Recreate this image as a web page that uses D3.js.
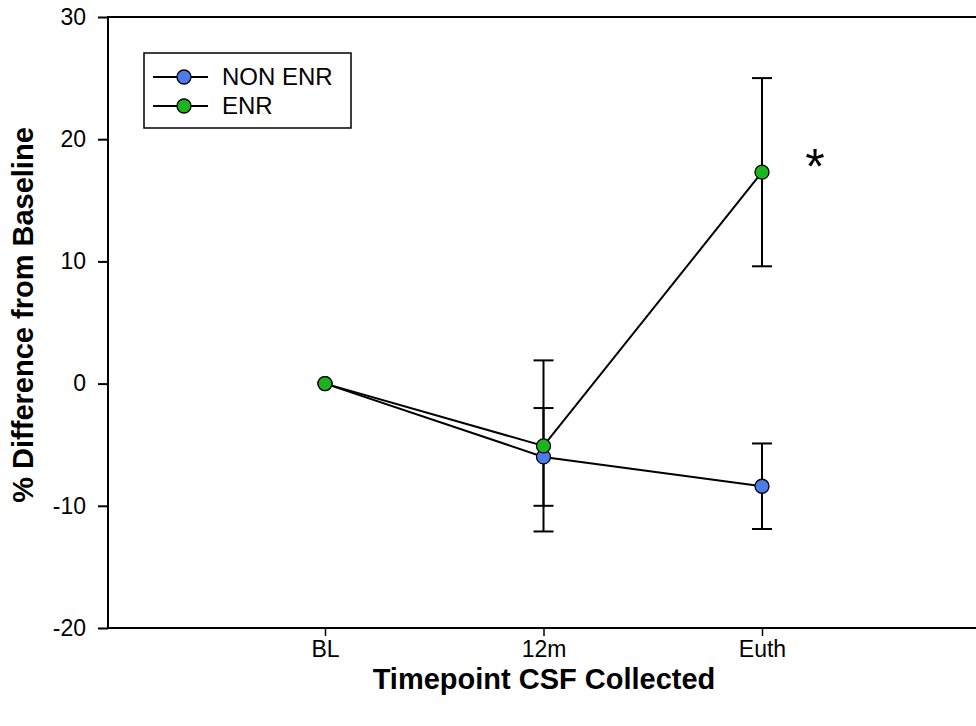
<!DOCTYPE html>
<html>
<head>
<meta charset="utf-8">
<script src="https://cdn.jsdelivr.net/npm/d3@7"></script>
<style>
  html, body { margin: 0; padding: 0; background: #fff; }
  svg { display: block; font-family: Arial, "Liberation Sans", sans-serif; }
</style>
</head>
<body>
<svg id="chart" width="976" height="726"></svg>
<script>
// Timepoints at which CSF was collected
const timepoints = ["BL", "12m", "Euth"];

// Mean % difference from baseline and its error (±) for each group
const nonEnrMean = [0, -6.0, -8.4];
const nonEnrErr  = [0, 4.0, 3.5];
const enrMean    = [0, -5.1, 17.3];
const enrErr     = [0, 7.0, 7.7];

const seriesNames  = ["NON ENR", "ENR"];
const seriesColors = ["#4c7ce8", "#1cb41c"];

const yTicks = [-20, -10, 0, 10, 20, 30];

const svg = d3.select("#chart");
const plotLeft = 108, plotTop = 17, plotBottom = 628, plotRight = 1100;
const fontFamily = "Arial, 'Liberation Sans', sans-serif";

const y = d3.scaleLinear().domain([-20, 30]).range([plotBottom, plotTop]);
const x = d3.scalePoint().domain(timepoints).range([325, 762]);

// Plot frame (right edge lies past the visible area)
svg.append("rect")
  .attr("x", plotLeft).attr("y", plotTop)
  .attr("width", plotRight - plotLeft).attr("height", plotBottom - plotTop)
  .attr("fill", "none").attr("stroke", "#000").attr("stroke-width", 2);

// Y axis (plain hyphen for negative numbers)
const yAxis = d3.axisLeft(y).tickValues(yTicks).tickSize(10).tickPadding(12)
  .tickFormat(d => String(d));
const gy = svg.append("g").attr("transform", `translate(${plotLeft},0)`).call(yAxis);
gy.select(".domain").remove();
gy.selectAll(".tick line").attr("stroke", "#000").attr("stroke-width", 2);
gy.selectAll(".tick text").attr("font-size", 23).attr("fill", "#000")
  .attr("font-family", fontFamily);

// X axis
const xAxis = d3.axisBottom(x).tickSize(8).tickPadding(5);
const gx = svg.append("g").attr("transform", `translate(0,${plotBottom})`).call(xAxis);
gx.select(".domain").remove();
gx.selectAll(".tick line").attr("stroke", "#000").attr("stroke-width", 1.5);
gx.selectAll(".tick text").attr("font-size", 23).attr("fill", "#000")
  .attr("font-family", fontFamily);

// Axis titles
svg.append("text")
  .attr("x", 544).attr("y", 689)
  .attr("text-anchor", "middle")
  .attr("font-size", 29).attr("font-weight", "bold")
  .text("Timepoint CSF Collected");

svg.append("text")
  .attr("transform", "translate(33,315) rotate(-90)")
  .attr("text-anchor", "middle")
  .attr("font-size", 29).attr("font-weight", "bold")
  .text("% Difference from Baseline");

const series = [
  { name: seriesNames[0], color: seriesColors[0], mean: nonEnrMean, err: nonEnrErr },
  { name: seriesNames[1], color: seriesColors[1], mean: enrMean, err: enrErr }
];

const line = d3.line().x((d, i) => x(timepoints[i])).y(d => y(d));
const capHalf = 10;

series.forEach(s => {
  const g = svg.append("g");
  // Error bars
  s.mean.forEach((m, i) => {
    if (s.err[i] === 0) return;
    const cx = x(timepoints[i]);
    g.append("line").attr("x1", cx).attr("x2", cx)
      .attr("y1", y(m + s.err[i])).attr("y2", y(m - s.err[i]))
      .attr("stroke", "#000").attr("stroke-width", 2);
    [m + s.err[i], m - s.err[i]].forEach(v => {
      g.append("line").attr("x1", cx - capHalf).attr("x2", cx + capHalf)
        .attr("y1", y(v)).attr("y2", y(v))
        .attr("stroke", "#000").attr("stroke-width", 2);
    });
  });
  // Connecting line
  g.append("path").datum(s.mean).attr("d", line)
    .attr("fill", "none").attr("stroke", "#000").attr("stroke-width", 2);
});

// Markers drawn above all lines
series.forEach(s => {
  svg.append("g").selectAll("circle").data(s.mean).join("circle")
    .attr("cx", (d, i) => x(timepoints[i])).attr("cy", d => y(d))
    .attr("r", 7).attr("fill", s.color)
    .attr("stroke", "#000").attr("stroke-width", 1.3);
});

// Significance marker
svg.append("text")
  .attr("x", 815).attr("y", 184)
  .attr("text-anchor", "middle")
  .attr("font-size", 50)
  .text("*");

// Legend
const lg = svg.append("g");
lg.append("rect").attr("x", 144).attr("y", 53).attr("width", 207).attr("height", 75)
  .attr("fill", "#fff").attr("stroke", "#000").attr("stroke-width", 1.5);
series.forEach((s, i) => {
  const ly = 77 + i * 29;
  lg.append("line").attr("x1", 153).attr("x2", 208).attr("y1", ly).attr("y2", ly)
    .attr("stroke", "#000").attr("stroke-width", 2);
  lg.append("circle").attr("cx", 184).attr("cy", ly).attr("r", 7)
    .attr("fill", s.color).attr("stroke", "#000").attr("stroke-width", 1.3);
  lg.append("text").attr("x", 222).attr("y", ly + 8)
    .attr("font-size", 24).text(s.name);
});
</script>
</body>
</html>
